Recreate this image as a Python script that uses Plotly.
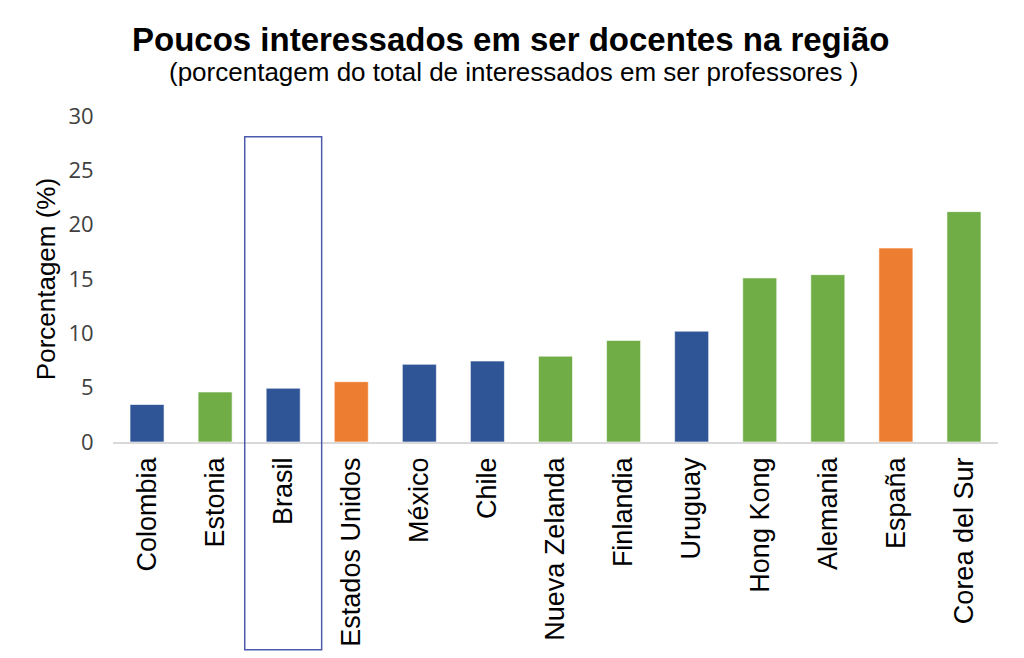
"""Bar chart: interest in teaching careers by country."""

import plotly.graph_objects as go

paises = [
    "Colombia", "Estonia", "Brasil", "Estados Unidos", "México", "Chile",
    "Nueva Zelanda", "Finlandia", "Uruguay", "Hong Kong", "Alemania",
    "España", "Corea del Sur",
]
porcentagem = [3.45, 4.6, 4.95, 5.55, 7.15, 7.45, 7.9, 9.35, 10.2, 15.1, 15.4, 17.85, 21.2]
grupo = [
    "latam", "outros", "latam", "destaque", "latam", "latam",
    "outros", "outros", "latam", "outros", "outros", "destaque", "outros",
]
y_ticks = [0, 5, 10, 15, 20, 25, 30]

CORES = {"latam": "#2F5597", "outros": "#70AD47", "destaque": "#ED7D31"}
FONT = "Liberation Sans, Arial, sans-serif"

fig = go.Figure(
    go.Bar(
        x=paises,
        y=porcentagem,
        marker=dict(
            color=[CORES[g] for g in grupo],
            line=dict(color="rgba(255,255,255,0.6)", width=1),
        ),
        width=0.5,
    )
)

# page body adds an 8px offset, margins account for it
fig.update_layout(
    width=1024,
    height=658,
    margin=dict(l=105, r=34, t=108, b=224),
    plot_bgcolor="white",
    paper_bgcolor="white",
    showlegend=False,
    font=dict(family=FONT, color="#000000"),
)

fig.update_xaxes(
    automargin=False,
    tickangle=-90,
    tickfont=dict(size=27, color="#000000"),
    showline=True,
    linecolor="#D9D9D9",
    linewidth=1.5,
    showgrid=False,
    ticks="outside",
    ticklen=3,
    tickcolor="rgba(0,0,0,0)",
)
fig.update_yaxes(
    automargin=False,
    range=[0, 30],
    tickvals=y_ticks,
    tickfont=dict(size=22, color="#404040", family="Open Sans, sans-serif"),
    showgrid=False,
    zeroline=False,
    showline=False,
    ticks="outside",
    ticklen=14,
    tickcolor="rgba(0,0,0,0)",
    title=dict(text="Porcentagem (%)", font=dict(size=26, color="#000000"), standoff=5),
)

# titles
fig.add_annotation(
    text="<b>Poucos interessados em ser docentes na região</b>",
    xref="paper", yref="paper", x=0.449, y=1.235,
    xanchor="center", yanchor="middle", showarrow=False,
    font=dict(size=33, color="#000000"),
)
fig.add_annotation(
    text="(porcentagem do total de interessados em ser professores )",
    xref="paper", yref="paper", x=0.453, y=1.134,
    xanchor="center", yanchor="middle", showarrow=False,
    font=dict(size=26, color="#000000"),
)

# highlight box around Brasil
idx = paises.index("Brasil")
fig.add_shape(
    type="rect",
    xref="x", yref="paper",
    x0=idx - 0.565, x1=idx + 0.565,
    y0=-0.637, y1=0.936,
    line=dict(color="#4A5BAE", width=1.5),
    fillcolor="rgba(0,0,0,0)",
    layer="above",
)

fig.write_html("out.html")
